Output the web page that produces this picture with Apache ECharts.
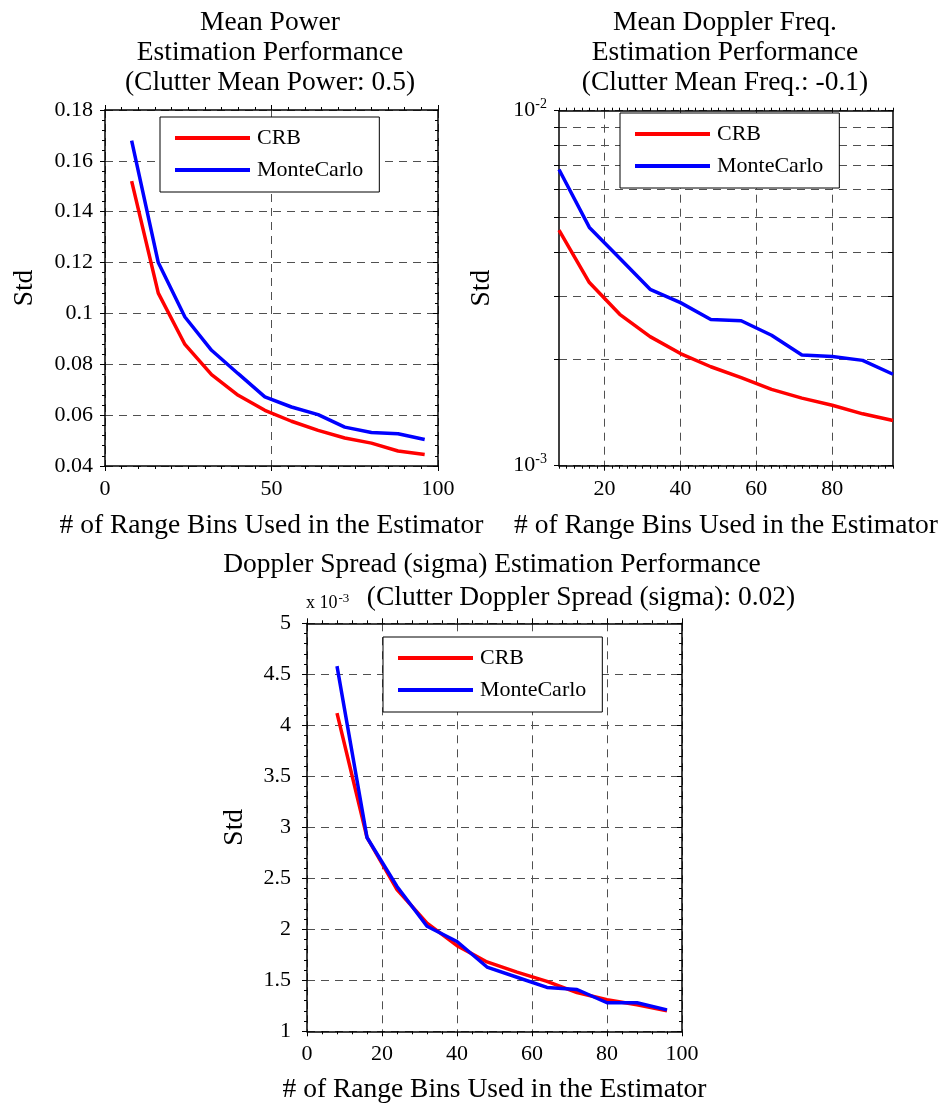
<!DOCTYPE html>
<html>
<head>
<meta charset="utf-8">
<script src="https://cdn.jsdelivr.net/npm/echarts@6/dist/echarts.min.js"></script>
<style>
  html, body { margin: 0; padding: 0; background: #ffffff; }
  #chart { width: 942px; height: 1110px; }
</style>
</head>
<body>
<div id="chart"></div>
<script>
// Number of range bins fed to the estimator
const rangeBins = [8, 16, 24, 32, 40, 48, 56, 64, 72, 80, 88, 96];

// Mean power estimation (clutter mean power 0.5)
const powerCrb        = [0.152, 0.108, 0.0878, 0.0759, 0.0678, 0.0619, 0.0576, 0.054, 0.051, 0.049, 0.0459, 0.0445];
const powerMonteCarlo = [0.168, 0.120, 0.0986, 0.0855, 0.0763, 0.0672, 0.0632, 0.0602, 0.0553, 0.0532, 0.0527, 0.0504];

// Mean Doppler frequency estimation (clutter mean freq -0.1)
const freqCrb        = [0.00461, 0.00328, 0.00267, 0.00231, 0.00207, 0.0019, 0.00177, 0.00164, 0.00155, 0.00148, 0.0014, 0.00134];
const freqMonteCarlo = [0.00683, 0.00469, 0.00384, 0.00314, 0.00288, 0.00258, 0.00256, 0.00233, 0.00205, 0.00203, 0.00198, 0.00181];

// Doppler spread estimation (clutter sigma 0.02)
const spreadCrb        = [0.00412, 0.00290, 0.00239, 0.00206, 0.00184, 0.00168, 0.00158, 0.00149, 0.00138, 0.00131, 0.00126, 0.00120];
const spreadMonteCarlo = [0.00458, 0.00290, 0.00242, 0.00203, 0.00188, 0.00163, 0.00153, 0.00143, 0.00141, 0.00128, 0.00128, 0.00121];

// Tick values
const freqXLabels   = [20, 40, 60, 80];
const freqDecades   = [0.001, 0.01];
const freqLogTicks  = [0.001, 0.002, 0.003, 0.004, 0.005, 0.006, 0.007, 0.008, 0.009, 0.01];

const seriesNames = ['CRB', 'MonteCarlo'];
const seriesColors = ['#ff0000', '#0000ff'];

const FONT = '"Liberation Serif", "Times New Roman", serif';
const xName = '# of Range Bins Used in the Estimator';

const pairs = (xs, ys) => xs.map((x, i) => [x, ys[i]]);

const gridLine = { show: true, lineStyle: { color: '#505050', width: 1, type: [8, 6] } };
const axisLine = { show: true, onZero: false, lineStyle: { color: '#000', width: 1.5 } };
const tickStyle = { color: '#000', width: 1 };
const labelStyle = { color: '#000', fontSize: 22, fontFamily: FONT };
const nameStyle = { color: '#000', fontSize: 27.5, fontFamily: FONT };
const titleStyle = { color: '#000', fontSize: 27.5, fontWeight: 'normal', fontFamily: FONT, lineHeight: 30 };

function frameAxis(opts) {
  return Object.assign({
    type: 'value',
    axisLine: axisLine,
    axisTick: { show: true, inside: false, length: 5, lineStyle: tickStyle },
    minorTick: { show: false },
    axisLabel: { show: false },
    splitLine: { show: false },
    minorSplitLine: { show: false }
  }, opts);
}

function legendBox(left, top) {
  return {
    data: seriesNames.map(n => ({ name: n, icon: 'rect' })),
    orient: 'vertical',
    left: left, top: top,
    padding: [9, 16, 10, 15],
    itemGap: 8,
    itemWidth: 75,
    itemHeight: 4,
    borderColor: '#000',
    borderWidth: 1,
    backgroundColor: '#fff',
    selectedMode: false,
    textStyle: { color: '#000', fontSize: 22, fontFamily: FONT, lineHeight: 24, padding: [0, 0, 0, 2] }
  };
}

function lineSeries(name, color, xi, yi, data) {
  return {
    type: 'line', name: name, xAxisIndex: xi, yAxisIndex: yi,
    data: data, symbol: 'none', silent: true, animation: false,
    lineStyle: { color: color, width: 3.5 }, itemStyle: { color: color }, z: 5
  };
}

const option = {
  backgroundColor: '#fff',
  animation: false,
  title: [
    { text: 'Mean Power\nEstimation Performance\n(Clutter Mean Power: 0.5)', left: 270, top: 8, textAlign: 'center', padding: 0, textStyle: titleStyle },
    { text: 'Mean Doppler Freq.\nEstimation Performance\n(Clutter Mean Freq.: -0.1)', left: 725, top: 8, textAlign: 'center', padding: 0, textStyle: titleStyle },
    { text: 'Doppler Spread (sigma) Estimation Performance', left: 492, top: 550, textAlign: 'center', padding: 0, textStyle: titleStyle },
    { text: '(Clutter Doppler Spread (sigma): 0.02)', left: 581, top: 583, textAlign: 'center', padding: 0, textStyle: titleStyle },
    { text: '{a|x 10}{s|-3}', left: 306, top: 593, padding: 0,
      textStyle: { fontWeight: 'normal', rich: {
        a: { color: '#000', fontSize: 18, fontWeight: 'normal', fontFamily: FONT, lineHeight: 20 },
        s: { color: '#000', fontSize: 13, fontWeight: 'normal', fontFamily: FONT, lineHeight: 20, padding: [0, 0, 8, 1] }
      } } }
  ],
  legend: [legendBox(160, 117), legendBox(620, 113), legendBox(383, 637)],
  grid: [
    { left: 105, top: 110, width: 333, height: 356 },
    { left: 559, top: 110.7, width: 334, height: 355 },
    { left: 307, top: 623.3, width: 375, height: 408 }
  ],
  xAxis: [
    // grid 0
    frameAxis({ gridIndex: 0, position: 'bottom', min: 0, max: 100, interval: 50,
      minorTick: { show: true, splitNumber: 10, length: 3, lineStyle: tickStyle },
      axisLabel: Object.assign({ show: true, margin: 12 }, labelStyle),
      splitLine: gridLine,
      name: xName, nameLocation: 'middle', nameGap: 46, nameTextStyle: nameStyle }),
    frameAxis({ gridIndex: 0, position: 'top', min: 0, max: 100, interval: 50,
      minorTick: { show: true, splitNumber: 10, length: 3, lineStyle: tickStyle } }),
    // grid 1
    frameAxis({ gridIndex: 1, position: 'bottom', min: 8, max: 96, interval: 2,
      axisTick: { show: true, inside: false, length: 3, lineStyle: tickStyle } }),
    frameAxis({ gridIndex: 1, position: 'bottom', min: 8, max: 96,
      axisLine: { show: false },
      axisTick: { show: true, inside: false, length: 5, lineStyle: tickStyle, customValues: freqXLabels },
      axisLabel: Object.assign({ show: true, margin: 13, customValues: freqXLabels }, labelStyle),
      splitLine: gridLine,
      name: xName, nameLocation: 'middle', nameGap: 46, nameTextStyle: nameStyle }),
    frameAxis({ gridIndex: 1, position: 'top', min: 8, max: 96, interval: 2,
      axisTick: { show: true, inside: false, length: 3, lineStyle: tickStyle } }),
    // grid 2
    frameAxis({ gridIndex: 2, position: 'bottom', min: 0, max: 100, interval: 20,
      minorTick: { show: true, splitNumber: 5, length: 3, lineStyle: tickStyle },
      axisLabel: Object.assign({ show: true, margin: 12 }, labelStyle),
      splitLine: gridLine,
      name: xName, nameLocation: 'middle', nameGap: 44, nameTextStyle: nameStyle }),
    frameAxis({ gridIndex: 2, position: 'top', min: 0, max: 100, interval: 20,
      minorTick: { show: true, splitNumber: 5, length: 3, lineStyle: tickStyle } })
  ],
  yAxis: [
    // grid 0
    frameAxis({ gridIndex: 0, position: 'left', min: 0.04, max: 0.18, interval: 0.02,
      minorTick: { show: true, splitNumber: 5, length: 3, lineStyle: tickStyle },
      axisLabel: Object.assign({ show: true, margin: 12 }, labelStyle),
      splitLine: gridLine,
      name: 'Std', nameLocation: 'middle', nameGap: 66, nameTextStyle: nameStyle }),
    frameAxis({ gridIndex: 0, position: 'right', min: 0.04, max: 0.18, interval: 0.02,
      axisTick: { show: true, inside: true, length: 5, lineStyle: tickStyle },
      minorTick: { show: true, splitNumber: 5, length: 3, lineStyle: tickStyle } }),
    // grid 1 (logarithmic)
    frameAxis({ gridIndex: 1, position: 'left', type: 'log', logBase: 10, min: 0.001, max: 0.01,
      axisTick: { show: true, inside: false, length: 5, lineStyle: tickStyle, customValues: freqLogTicks },
      axisLabel: { show: true, margin: 12, customValues: freqDecades,
        formatter: v => '{b|10}{s|' + Math.round(Math.log10(v)) + '}',
        rich: {
          b: { color: '#000', fontSize: 22, fontFamily: FONT, lineHeight: 24 },
          s: { color: '#000', fontSize: 14, fontFamily: FONT, lineHeight: 24, padding: [0, 0, 12, 0] }
        } },
      splitLine: gridLine,
      name: 'Std', nameLocation: 'middle', nameGap: 63, nameTextStyle: nameStyle }),
    frameAxis({ gridIndex: 1, position: 'right', type: 'log', logBase: 10, min: 0.001, max: 0.01,
      axisTick: { show: true, inside: true, length: 5, lineStyle: tickStyle, customValues: freqLogTicks } }),
    // grid 2
    frameAxis({ gridIndex: 2, position: 'left', min: 0.001, max: 0.005, interval: 0.0005,
      minorTick: { show: true, splitNumber: 5, length: 3, lineStyle: tickStyle },
      axisLabel: Object.assign({ show: true, margin: 16, formatter: v => String(+(v * 1000).toFixed(2)) }, labelStyle),
      splitLine: gridLine,
      name: 'Std', nameLocation: 'middle', nameGap: 58, nameTextStyle: nameStyle }),
    frameAxis({ gridIndex: 2, position: 'right', min: 0.001, max: 0.005, interval: 0.0005,
      axisTick: { show: true, inside: true, length: 5, lineStyle: tickStyle },
      minorTick: { show: true, splitNumber: 5, length: 3, lineStyle: tickStyle } })
  ],
  series: [
    lineSeries('CRB', seriesColors[0], 0, 0, pairs(rangeBins, powerCrb)),
    lineSeries('MonteCarlo', seriesColors[1], 0, 0, pairs(rangeBins, powerMonteCarlo)),
    lineSeries('CRB', seriesColors[0], 3, 2, pairs(rangeBins, freqCrb)),
    lineSeries('MonteCarlo', seriesColors[1], 3, 2, pairs(rangeBins, freqMonteCarlo)),
    lineSeries('CRB', seriesColors[0], 5, 4, pairs(rangeBins, spreadCrb)),
    lineSeries('MonteCarlo', seriesColors[1], 5, 4, pairs(rangeBins, spreadMonteCarlo))
  ]
};

const chart = echarts.init(document.getElementById('chart'), null, { renderer: 'canvas' });
chart.setOption(option);
</script>
</body>
</html>
